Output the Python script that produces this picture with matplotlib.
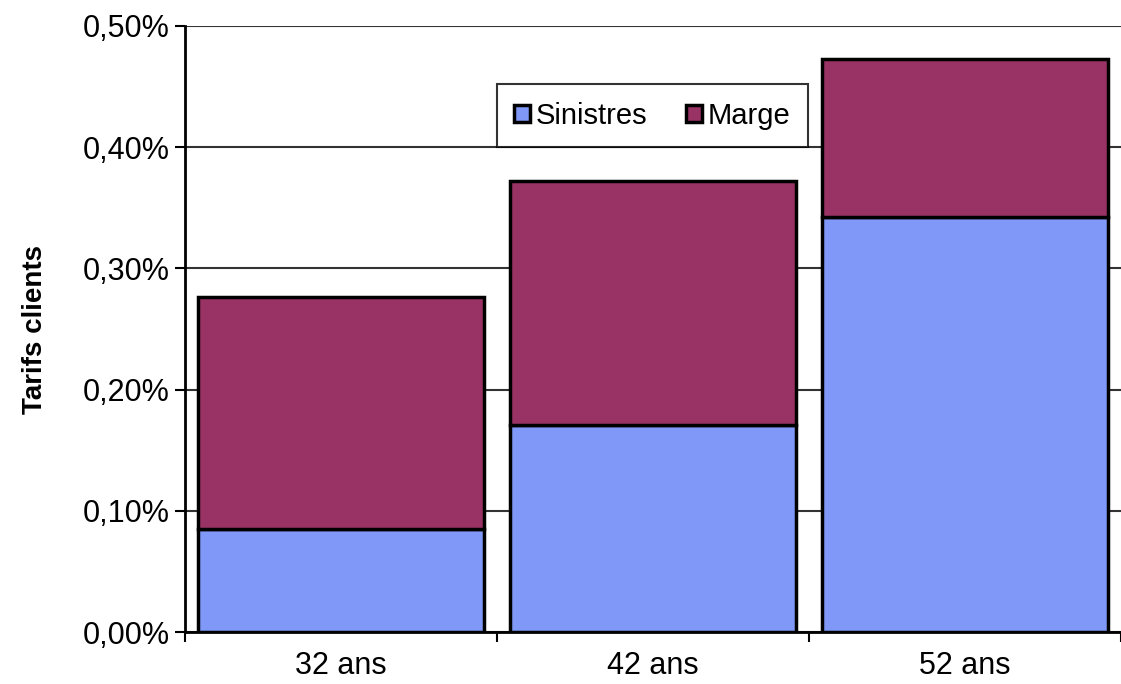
import matplotlib.pyplot as plt
from matplotlib.ticker import FuncFormatter

# Données
categories = ['32 ans', '42 ans', '52 ans']
sinistres = [0.085, 0.171, 0.342]
marge = [0.191, 0.201, 0.131]

plt.rcParams['font.family'] = ['Liberation Sans', 'DejaVu Sans']

fig = plt.figure(figsize=(11.21, 6.84), dpi=100)
ax = fig.add_axes([0.165, 0.076, 0.835, 0.886])

x = range(len(categories))
ax.bar(x, sinistres, width=0.917, color='#8099F8', edgecolor='black', linewidth=2.5,
       label='Sinistres', zorder=3)
ax.bar(x, marge, width=0.917, bottom=sinistres, color='#993366', edgecolor='black',
       linewidth=2.5, label='Marge', zorder=3)

ax.set_xlim(-0.5, 2.5)
ax.set_ylim(0, 0.5)
ax.set_yticks([0, 0.1, 0.2, 0.3, 0.4, 0.5])
ax.yaxis.set_major_formatter(FuncFormatter(lambda v, p: f'{v:.2f}%'.replace('.', ',')))
ax.set_xticks([0, 1, 2])
ax.set_xticklabels(categories)
ax.set_xticks([-0.5, 0.5, 1.5, 2.5], minor=True)
ax.tick_params(axis='x', which='major', length=0, labelsize=22, pad=14)
ax.tick_params(axis='x', which='minor', length=7, width=1.5, direction='out')
ax.tick_params(axis='y', labelsize=22, length=7, width=1.5, direction='out', pad=4)

ax.yaxis.grid(True, color='#333333', linewidth=1.5, zorder=0)
for side in ['top', 'right']:
    ax.spines[side].set_visible(False)
ax.spines['left'].set_linewidth(2)
ax.spines['bottom'].set_linewidth(2)

ax.set_ylabel('Tarifs clients', fontsize=20, fontweight='bold', labelpad=25)

leg = ax.legend(loc='upper left', bbox_to_anchor=(0.333, 0.904), borderaxespad=0,
                ncol=2, fontsize=21, frameon=True, fancybox=False, edgecolor='black',
                handlelength=0.55, handleheight=0.55, handletextpad=0.2,
                columnspacing=1.3, borderpad=0.6)
leg.get_frame().set_linewidth(1.5)

fig.savefig('out.png', dpi=100)
